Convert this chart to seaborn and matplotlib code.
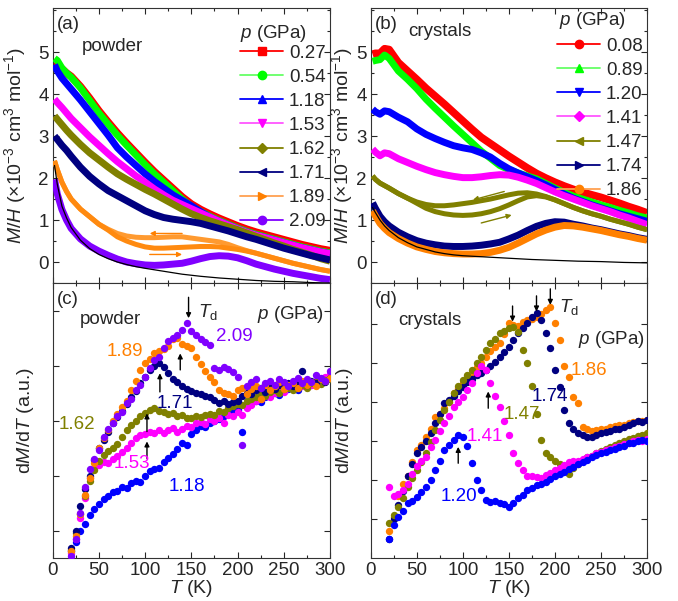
import matplotlib
matplotlib.use("Agg")
import matplotlib.pyplot as plt
import seaborn as sns
from matplotlib.lines import Line2D
from matplotlib.ticker import MultipleLocator, FixedLocator, NullFormatter

sns.set_style("ticks")
plt.rcParams['font.family'] = ['Liberation Sans', 'DejaVu Sans']
plt.rcParams['mathtext.fontset'] = 'custom'
plt.rcParams['mathtext.rm'] = 'Liberation Sans'
plt.rcParams['mathtext.it'] = 'Liberation Sans:italic'
plt.rcParams['mathtext.bf'] = 'Liberation Sans:bold'

# ---------------- data: top panels (M/H) ----------------
T_top = [2, 5, 10, 15, 20, 30, 40, 50, 60, 70, 80, 90, 100, 110, 120, 130, 140, 150,
         160, 170, 180, 190, 200, 210, 220, 230, 240, 250, 260, 270, 280, 290, 300]

powder_p = ["0.27", "0.54", "1.18", "1.53", "1.62", "1.71", "1.89", "2.09"]
pw_027 = [4.65, 4.68, 4.60, 4.50, 4.42, 4.18, 3.90, 3.60, 3.33, 3.07, 2.83, 2.60, 2.37, 2.15, 1.95, 1.75, 1.55, 1.38,
          1.25, 1.14, 1.04, 0.95, 0.86, 0.78, 0.71, 0.65, 0.59, 0.53, 0.47, 0.41, 0.36, 0.31, 0.27]
pw_054 = [4.85, 4.80, 4.62, 4.50, 4.40, 4.15, 3.85, 3.55, 3.28, 3.02, 2.78, 2.55, 2.32, 2.10, 1.90, 1.70, 1.50, 1.33,
          1.20, 1.09, 0.99, 0.90, 0.81, 0.73, 0.66, 0.60, 0.54, 0.48, 0.42, 0.36, 0.31, 0.26, 0.22]
pw_118 = [4.70, 4.55, 4.38, 4.25, 4.12, 3.86, 3.58, 3.30, 3.02, 2.72, 2.50, 2.30, 2.10, 1.92, 1.76, 1.60, 1.47, 1.34,
          1.20, 1.07, 0.97, 0.88, 0.79, 0.71, 0.64, 0.58, 0.52, 0.46, 0.40, 0.34, 0.29, 0.24, 0.20]
pw_153 = [3.88, 3.80, 3.68, 3.55, 3.42, 3.20, 2.98, 2.78, 2.58, 2.39, 2.22, 2.05, 1.90, 1.74, 1.60, 1.47, 1.37, 1.27,
          1.17, 1.07, 0.97, 0.88, 0.79, 0.71, 0.64, 0.58, 0.52, 0.46, 0.40, 0.34, 0.29, 0.24, 0.20]
pw_162 = [3.48, 3.40, 3.27, 3.14, 3.02, 2.80, 2.60, 2.43, 2.26, 2.10, 1.97, 1.85, 1.73, 1.62, 1.50, 1.38, 1.26, 1.15,
          1.06, 0.98, 0.91, 0.84, 0.77, 0.69, 0.61, 0.53, 0.45, 0.38, 0.30, 0.23, 0.16, 0.08, 0.02]
pw_171 = [3.00, 2.92, 2.78, 2.66, 2.52, 2.26, 2.04, 1.86, 1.70, 1.58, 1.46, 1.34, 1.22, 1.13, 1.06, 1.02, 0.99, 0.96,
          0.92, 0.86, 0.80, 0.74, 0.67, 0.60, 0.54, 0.47, 0.40, 0.33, 0.27, 0.21, 0.15, 0.10, 0.05]
pw_189_cool = [2.41, 2.20, 1.90, 1.68, 1.50, 1.26, 1.08, 0.90, 0.78, 0.68, 0.62, 0.59, 0.58, 0.58, 0.59, 0.60, 0.60, 0.57,
               0.54, 0.51, 0.48, 0.42, 0.34, 0.27, 0.21, 0.15, 0.09, 0.03, -0.03, -0.08, -0.13, -0.18, -0.22]
pw_189_warm = [2.41, 2.20, 1.90, 1.68, 1.50, 1.26, 1.08, 0.90, 0.76, 0.60, 0.50, 0.42, 0.36, 0.33, 0.33, 0.34, 0.35, 0.36,
               0.37, 0.37, 0.36, 0.33, 0.30, 0.26, 0.21, 0.15, 0.09, 0.03, -0.03, -0.08, -0.13, -0.18, -0.22]
pw_209 = [1.97, 1.62, 1.25, 1.00, 0.80, 0.55, 0.38, 0.26, 0.16, 0.07, 0.00, -0.04, -0.07, -0.08, -0.07, -0.05, -0.03, 0.02,
          0.08, 0.13, 0.15, 0.14, 0.10, 0.03, -0.05, -0.11, -0.17, -0.22, -0.27, -0.31, -0.35, -0.39, -0.42]
T_cw_a = [2, 5, 10, 15, 20, 30, 40, 50, 60, 70, 80, 90, 100, 120, 140, 160, 180, 200, 220, 240, 260, 280, 300]
cw_a = [2.30, 1.85, 1.33, 1.05, 0.82, 0.52, 0.32, 0.18, 0.08, 0.00, -0.06, -0.11, -0.15, -0.22, -0.29, -0.34,
        -0.38, -0.41, -0.44, -0.46, -0.47, -0.49, -0.50]

crystal_p = ["0.08", "0.89", "1.20", "1.41", "1.47", "1.74", "1.86"]
cr_008 = [4.95, 4.97, 4.97, 5.08, 5.06, 4.75, 4.55, 4.35, 4.14, 3.95, 3.76, 3.56, 3.36, 3.16, 2.97, 2.82, 2.67, 2.52,
          2.38, 2.24, 2.11, 2.00, 1.90, 1.81, 1.73, 1.66, 1.60, 1.54, 1.47, 1.40, 1.32, 1.25, 1.17]
cr_089 = [4.78, 4.80, 4.82, 4.93, 4.85, 4.55, 4.35, 4.13, 3.88, 3.66, 3.45, 3.24, 3.04, 2.84, 2.64, 2.47, 2.30, 2.20,
          2.12, 2.05, 1.98, 1.87, 1.76, 1.66, 1.57, 1.50, 1.43, 1.36, 1.30, 1.23, 1.17, 1.10, 1.05]
cr_120 = [3.64, 3.58, 3.52, 3.60, 3.58, 3.45, 3.34, 3.17, 3.04, 2.94, 2.85, 2.77, 2.72, 2.68, 2.60, 2.50, 2.35, 2.22,
          2.12, 2.03, 1.94, 1.84, 1.73, 1.62, 1.52, 1.44, 1.36, 1.29, 1.22, 1.15, 1.09, 1.03, 0.97]
cr_141 = [2.69, 2.62, 2.53, 2.60, 2.58, 2.46, 2.37, 2.28, 2.20, 2.13, 2.08, 2.04, 2.01, 2.01, 2.03, 2.06, 2.08, 2.07,
          2.02, 1.95, 1.87, 1.77, 1.67, 1.58, 1.50, 1.42, 1.34, 1.27, 1.20, 1.12, 1.05, 0.97, 0.89]
cr_147_cool = [2.05, 1.97, 1.88, 1.82, 1.76, 1.63, 1.52, 1.43, 1.37, 1.34, 1.34, 1.36, 1.39, 1.42, 1.46, 1.50, 1.55, 1.60,
               1.64, 1.65, 1.62, 1.56, 1.48, 1.39, 1.30, 1.22, 1.15, 1.09, 1.02, 0.96, 0.90, 0.83, 0.77]
cr_147_warm = [2.05, 1.97, 1.88, 1.82, 1.76, 1.63, 1.52, 1.40, 1.28, 1.20, 1.15, 1.12, 1.11, 1.12, 1.15, 1.20, 1.27, 1.36,
               1.46, 1.55, 1.58, 1.55, 1.48, 1.39, 1.30, 1.22, 1.15, 1.09, 1.02, 0.96, 0.90, 0.83, 0.77]
cr_174 = [1.41, 1.28, 1.09, 0.96, 0.86, 0.71, 0.60, 0.51, 0.45, 0.41, 0.38, 0.37, 0.37, 0.38, 0.40, 0.43, 0.47, 0.55,
          0.64, 0.75, 0.85, 0.92, 0.96, 0.95, 0.90, 0.86, 0.81, 0.77, 0.72, 0.67, 0.63, 0.58, 0.54]
cr_186 = [1.22, 1.10, 0.92, 0.80, 0.70, 0.56, 0.45, 0.36, 0.30, 0.25, 0.22, 0.20, 0.19, 0.19, 0.20, 0.23, 0.28, 0.35,
          0.45, 0.56, 0.67, 0.76, 0.83, 0.87, 0.86, 0.83, 0.79, 0.75, 0.70, 0.65, 0.61, 0.56, 0.52]
T_cw_b = [2, 5, 10, 15, 20, 30, 40, 50, 60, 70, 80, 90, 100, 125, 150, 175, 200, 225, 250, 275, 300]
cw_b = [1.30, 1.18, 1.00, 0.86, 0.75, 0.58, 0.46, 0.36, 0.30, 0.24, 0.20, 0.17, 0.15, 0.12, 0.09, 0.06, 0.04,
        0.02, 0.01, -0.01, -0.02]

# ---------------- data: bottom panels (dM/dT, a.u.) ----------------
T_d = [20, 25, 30, 35, 40, 45, 50, 55, 60, 65, 70, 75, 80, 85, 90, 95, 100, 105, 110, 115, 120, 125, 130, 135,
       140, 145, 150, 155, 160, 165, 170, 175, 180, 185, 190, 195, 200, 205, 210, 215, 220, 225, 230, 235,
       240, 245, 250, 255, 260, 265, 270, 275, 280, 285, 290, 295, 300]

dp_118 = [0.12, 0.30, 0.50, 0.62, 0.78, 0.90, 0.98, 1.08, 1.12, 1.20, 1.22, 1.30, 1.28, 1.36, 1.40, 1.38, 1.50, 1.58,
          1.62, 1.64, 1.74, 1.82, 1.90, 1.98, 2.10, 2.05, 2.26, 2.33, 2.40, 2.38, 2.46, 2.50, 2.52, 2.58, 2.62, 2.66,
          2.70, 2.30, 2.74, 2.80, 2.86, 2.84, 2.92, 2.95, 3.00, 2.97, 3.05, 3.08, 3.10, 3.06, 3.14, 3.18, 3.15, 3.20,
          3.24, 3.22, 3.28]
dp_153 = [0.10, 0.35, 0.72, 1.10, 1.45, 1.62, 1.70, 1.74, 1.72, 1.80, 1.85, 1.92, 2.00, 2.10, 2.18, 2.24, 2.26, 2.30,
          2.28, 2.32, 2.27, 2.33, 2.36, 2.30, 2.35, 2.40, 2.38, 2.45, 2.48, 2.44, 2.52, 2.50, 2.55, 2.46, 2.60, 2.58,
          2.65, 2.60, 2.72, 2.78, 2.85, 2.90, 2.95, 2.92, 3.00, 3.05, 3.02, 3.10, 3.08, 3.14, 3.12, 3.18, 3.15, 3.22,
          3.20, 3.30, 3.35]
dp_162 = [0.15, 0.45, 0.80, 1.12, 1.40, 1.60, 1.76, 1.88, 1.95, 2.00, 2.08, 2.20, 2.32, 2.42, 2.50, 2.58, 2.64, 2.70,
          2.72, 2.68, 2.66, 2.62, 2.64, 2.58, 2.60, 2.55, 2.54, 2.58, 2.56, 2.60, 2.62, 2.60, 2.68, 2.65, 2.72, 2.76,
          2.80, 2.78, 2.85, 2.90, 2.92, 2.98, 2.95, 3.02, 3.05, 3.00, 3.08, 3.10, 3.06, 3.12, 3.15, 3.10, 3.18, 3.20,
          3.16, 3.24, 3.26]
dp_171 = [0.18, 0.50, 0.95, 1.25, 1.50, 1.78, 2.00, 2.15, 2.30, 2.45, 2.56, 2.68, 2.80, 2.92, 3.04, 3.18, 3.30, 3.42,
          3.50, 3.54, 3.48, 3.36, 3.26, 3.20, 3.12, 3.08, 3.04, 3.00, 2.98, 2.95, 2.92, 2.88, 2.82, 2.85, 2.80, 2.84,
          2.86, 2.95, 3.00, 2.98, 3.05, 3.10, 3.02, 3.12, 3.08, 3.15, 3.10, 3.18, 3.12, 3.20, 3.40, 3.15, 3.22, 3.18,
          3.25, 3.20, 3.28]
dp_189 = [0.12, 0.40, 0.80, 1.15, 1.45, 1.72, 2.00, 2.18, 2.32, 2.50, 2.62, 2.75, 2.86, 3.05, 3.22, 3.42, 3.55, 3.62,
          3.72, 3.76, 3.80, 3.85, 3.98, 4.00, 3.90, 3.86, 3.82, 3.66, 3.52, 3.40, 3.30, 3.20, 3.05, 3.00, 2.98, 2.95,
          3.05, 3.10, 2.98, 3.08, 3.12, 2.90, 3.15, 3.05, 3.12, 3.20, 3.08, 3.15, 3.18, 3.10, 3.22, 3.15, 3.20, 3.12,
          3.25, 3.22, 3.28]
dp_209 = [0.03, 0.35, 0.82, 1.30, 1.62, 1.80, 1.96, 2.20, 2.35, 2.45, 2.58, 2.66, 2.82, 2.90, 3.05, 3.15, 3.30, 3.45,
          3.60, 3.65, 3.82, 3.94, 4.00, 4.05, 4.15, 4.27, 4.12, 4.05, 3.98, 3.92, 3.88, 3.45, 3.42, 3.48, 3.44, 3.38,
          3.30, 2.05, 3.12, 3.20, 3.25, 3.10, 3.18, 3.22, 3.15, 3.26, 3.20, 3.12, 3.22, 3.28, 3.18, 3.25, 3.20, 3.32,
          3.28, 3.22, 3.40]

dc_120 = [0.50, 0.85, 1.05, 1.20, 1.40, 1.45, 1.57, 1.70, 1.83, 2.00, 2.26, 2.50, 2.77, 2.90, 3.03, 3.15, 3.10, 2.86,
          2.43, 2.00, 1.74, 1.49, 1.44, 1.46, 1.40, 1.38, 1.32, 1.42, 1.53, 1.62, 1.74, 1.80, 1.86, 1.90, 1.96, 2.02,
          2.09, 2.15, 2.20, 2.28, 2.34, 2.40, 2.47, 2.52, 2.60, 2.64, 2.68, 2.72, 2.77, 2.80, 2.85, 2.88, 2.94, 2.96,
          3.00, 3.02, 3.00]
dc_141 = [1.83, 1.60, 1.65, 1.75, 1.91, 2.15, 2.35, 2.50, 2.60, 2.85, 3.03, 3.25, 3.45, 3.65, 3.88, 4.00, 4.14, 4.30,
          4.48, 4.74, 4.91, 4.82, 4.48, 4.15, 3.88, 3.50, 3.15, 2.69, 2.43, 2.25, 2.09, 2.10, 2.08, 2.05, 2.12, 2.18,
          2.26, 2.30, 2.38, 2.45, 2.50, 2.48, 2.55, 2.60, 2.62, 2.68, 2.72, 2.76, 2.80, 2.84, 2.88, 2.92, 2.95, 3.00,
          3.02, 3.00, 3.05]
dc_147 = [0.89, 1.10, 1.32, 1.55, 1.83, 2.05, 2.25, 2.45, 2.68, 2.98, 3.28, 3.55, 3.80, 4.00, 4.22, 4.40, 4.56, 4.70,
          4.82, 5.00, 5.16, 5.32, 5.50, 5.62, 5.76, 5.82, 5.89, 5.93, 5.80, 5.33, 4.99, 4.40, 3.70, 3.03, 2.68, 2.60,
          2.50, 2.40, 2.26, 2.15, 2.30, 2.40, 2.50, 2.58, 2.62, 2.70, 2.75, 2.80, 2.85, 2.90, 2.95, 3.00, 3.05, 3.08,
          3.12, 3.15, 3.20]
dc_174 = [0.50, 1.00, 1.35, 1.72, 2.09, 2.40, 2.68, 2.85, 3.00, 3.20, 3.45, 3.70, 3.97, 4.05, 4.15, 4.28, 4.39, 4.50,
          4.60, 4.68, 4.74, 4.82, 4.91, 5.02, 5.16, 5.28, 5.42, 5.60, 5.76, 5.90, 6.02, 6.19, 6.27, 6.10, 5.76, 5.38,
          4.82, 4.39, 3.80, 3.45, 3.30, 3.20, 3.15, 3.11, 3.11, 3.15, 3.20, 3.22, 3.25, 3.30, 3.32, 3.35, 3.40, 3.45,
          3.50, 3.48, 3.54]
dc_186 = [0.70, 1.05, 1.60, 1.90, 2.10, 2.45, 2.77, 2.90, 3.10, 3.30, 3.62, 3.70, 3.85, 4.00, 4.22, 4.35, 4.48, 4.62,
          4.75, 4.90, 5.00, 5.15, 5.30, 5.42, 5.50, 5.75, 6.02, 5.98, 5.95, 6.05, 6.10, 6.12, 6.19, 6.25, 6.36, 6.44,
          6.02, 5.59, 4.91, 4.65, 4.14, 3.97, 3.37, 3.30, 3.25, 3.28, 3.30, 3.32, 3.35, 3.38, 3.40, 3.42, 3.45, 3.48,
          3.50, 3.52, 3.55]

# colours / markers
C = dict(red='#FF0000', green='#00FF00', blue='#0000FF', mag='#FF00FF', olive='#808000',
         navy='#000080', orange='#FF8000', purple='#8000FF')

# ---------------- figure ----------------
fig = plt.figure(figsize=(6.78, 6.01), dpi=100)
ax_a = fig.add_axes([0.0777, 0.5291, 0.409, 0.4576])
ax_c = fig.add_axes([0.0777, 0.0715, 0.409, 0.4576])
ax_b = fig.add_axes([0.5468, 0.5291, 0.4075, 0.4576])
ax_d = fig.add_axes([0.5468, 0.0715, 0.4075, 0.4576])

FS = 13.5
FL = 14


def band(ax, T, v, color, lw=5.0, z=2, alpha=1.0):
    sns.lineplot(x=T, y=v, ax=ax, color=color, lw=lw, sort=False, estimator=None,
                 legend=False, zorder=z, alpha=alpha, solid_capstyle='butt')


def cw(ax, T, v):
    sns.lineplot(x=T, y=v, ax=ax, color='black', lw=0.9, sort=False, estimator=None,
                 legend=False, zorder=20)


# (a) powder
band(ax_a, T_top, pw_027, C['red'], z=2, lw=5.5)
band(ax_a, T_top, pw_054, C['green'], z=3)
band(ax_a, T_top, pw_118, C['blue'], z=4)
band(ax_a, T_top, pw_153, C['mag'], z=5)
band(ax_a, T_top, pw_162, C['olive'], z=6)
band(ax_a, T_top, pw_171, C['navy'], z=7)
band(ax_a, T_top, pw_189_cool, '#FF9A30', lw=3.6, z=8)
band(ax_a, T_top, pw_189_warm, '#FF8A10', lw=3.6, z=8)
band(ax_a, T_top, pw_209, C['purple'], z=9)
cw(ax_a, T_cw_a, cw_a)
ax_a.annotate('', xy=(105, 0.68), xytext=(140, 0.68),
              arrowprops=dict(arrowstyle='-|>', color=C['orange'], lw=1, mutation_scale=7, shrinkA=0, shrinkB=0), zorder=30)
ax_a.annotate('', xy=(140, 0.18), xytext=(105, 0.18),
              arrowprops=dict(arrowstyle='-|>', color=C['orange'], lw=1, mutation_scale=7, shrinkA=0, shrinkB=0), zorder=30)

# (b) crystals
band(ax_b, T_top, cr_008, C['red'], z=2, lw=5.5)
band(ax_b, T_top, cr_089, C['green'], z=3)
band(ax_b, T_top, cr_120, C['blue'], z=4)
band(ax_b, T_top, cr_141, C['mag'], z=5)
band(ax_b, T_top, cr_147_cool, C['olive'], lw=3.6, z=6)
band(ax_b, T_top, cr_147_warm, C['olive'], lw=3.6, z=6)
band(ax_b, T_top, cr_174, C['navy'], z=7)
band(ax_b, T_top, cr_186, C['orange'], z=8)
cw(ax_b, T_cw_b, cw_b)
ax_b.annotate('', xy=(111, 1.48), xytext=(145, 1.68),
              arrowprops=dict(arrowstyle='-|>', color=C['olive'], lw=1, mutation_scale=7, shrinkA=0, shrinkB=0), zorder=30)
ax_b.annotate('', xy=(153, 1.12), xytext=(120, 0.93),
              arrowprops=dict(arrowstyle='-|>', color=C['olive'], lw=1, mutation_scale=7, shrinkA=0, shrinkB=0), zorder=30)

# legends (title drawn as separate text for exact placement)
mk_a = ['s', 'o', '^', 'v', 'D', '<', '>', 'o']
col_a = [C['red'], C['green'], C['blue'], C['mag'], C['olive'], C['navy'], C['orange'], C['purple']]
lc_a = [C['red'], '#66FF66', C['blue'], '#FF55FF', C['olive'], C['navy'], '#FFA050', C['purple']]
h_a = [Line2D([], [], color=lc, lw=1.3, marker=m, ms=6 if m != 'D' else 5, mfc=c, mec=c)
       for m, c, lc in zip(mk_a, col_a, lc_a)]
leg = ax_a.legend(h_a, powder_p, loc='upper right', bbox_to_anchor=(0.985, 0.8665),
                  frameon=False, fontsize=FS, handlelength=2.3, handletextpad=0.3,
                  labelspacing=0.37, borderpad=0, borderaxespad=0)
leg.set_zorder(40)
ax_a.text(0.675, 0.909, "$p$ (GPa)", transform=ax_a.transAxes, fontsize=FS, ha='left', va='center', zorder=40)

mk_b = ['o', '^', 'v', 'D', '<', '>', 'o']
col_b = [C['red'], C['green'], C['blue'], C['mag'], C['olive'], C['navy'], C['orange']]
lc_b = [C['red'], '#66FF66', C['blue'], '#FF55FF', C['olive'], C['navy'], '#FFA050']
h_b = [Line2D([], [], color=lc, lw=1.3, marker=m, ms=6 if m != 'D' else 5, mfc=c, mec=c)
       for m, c, lc in zip(mk_b, col_b, lc_b)]
leg2 = ax_b.legend(h_b, crystal_p, loc='upper right', bbox_to_anchor=(0.985, 0.892),
                   frameon=False, fontsize=FS, handlelength=2.3, handletextpad=0.3,
                   labelspacing=0.37, borderpad=0, borderaxespad=0)
leg2.set_zorder(40)
ax_b.text(0.681, 0.956, "$p$ (GPa)", transform=ax_b.transAxes, fontsize=FS, ha='left', va='center', zorder=40)

# (c) powder derivative
S = 28
for vals, c, z in [(dp_118, C['blue'], 3), (dp_153, C['mag'], 4), (dp_162, C['olive'], 5),
                   (dp_171, C['navy'], 6), (dp_189, C['orange'], 7), (dp_209, C['purple'], 8)]:
    sns.scatterplot(x=T_d, y=vals, ax=ax_c, color=c, s=S, linewidth=0, legend=False, zorder=z)

# (d) crystals derivative
for vals, c, z in [(dc_186, C['orange'], 3), (dc_174, C['navy'], 4), (dc_147, C['olive'], 5),
                   (dc_141, C['mag'], 6), (dc_120, C['blue'], 7)]:
    sns.scatterplot(x=T_d, y=vals, ax=ax_d, color=c, s=S, linewidth=0, legend=False, zorder=z)


def arrow(ax, x, y0, y1):
    ax.annotate('', xy=(x, y1), xytext=(x, y0),
                arrowprops=dict(arrowstyle='-|>', color='black', lw=1, mutation_scale=7,
                                shrinkA=0, shrinkB=0), zorder=30, annotation_clip=False)


# annotations (c)
for s, x, y, c in [("1.89", 78, 3.75, C['orange']), ("2.09", 196, 4.02, C['purple']),
                   ("1.71", 132, 2.81, C['navy']), ("1.62", 26, 2.42, C['olive']),
                   ("1.53", 86, 1.72, C['mag']), ("1.18", 145, 1.30, C['blue'])]:
    ax_c.text(x, y, s, color=c, fontsize=FS, ha='center', va='center', zorder=35)
ax_c.text(63, 4.33, "powder", fontsize=FS, ha='center', va='center')
ax_c.text(157, 4.48, "$T_\\mathrm{d}$", fontsize=FS, ha='left', va='center')
ax_c.text(257, 4.42, "$p$ (GPa)", fontsize=FS, ha='center', va='center')
arrow(ax_c, 147, 4.74, 4.36)
arrow(ax_c, 138, 3.42, 3.72)
arrow(ax_c, 116, 3.02, 3.36)
arrow(ax_c, 102, 2.30, 2.63)
arrow(ax_c, 102, 1.81, 2.12)

# annotations (d)
for s, x, y, c in [("1.86", 237, 4.82, C['orange']), ("1.74", 194, 4.14, C['navy']),
                   ("1.47", 164, 3.67, C['olive']), ("1.41", 124, 3.11, C['mag']),
                   ("1.20", 96, 1.57, C['blue'])]:
    ax_d.text(x, y, s, color=c, fontsize=FS, ha='center', va='center', zorder=35)
ax_d.text(64, 6.1, "crystals", fontsize=FS, ha='center', va='center')
ax_d.text(204, 6.44, "$T_\\mathrm{d}$", fontsize=FS, ha='left', va='center')
ax_d.text(261, 5.59, "$p$ (GPa)", fontsize=FS, ha='center', va='center')
arrow(ax_d, 154, 6.46, 6.06)
arrow(ax_d, 180, 6.72, 6.32)
arrow(ax_d, 195, 6.9, 6.49)
arrow(ax_d, 127.6, 3.84, 4.27)
arrow(ax_d, 95, 2.43, 2.85)

# panel labels
ax_a.text(0.015, 0.97, "(a)", transform=ax_a.transAxes, fontsize=FS, va='top', ha='left')
ax_a.text(0.215, 0.86, "powder", transform=ax_a.transAxes, fontsize=FS, va='center', ha='center')
ax_b.text(0.015, 0.97, "(b)", transform=ax_b.transAxes, fontsize=FS, va='top', ha='left')
ax_b.text(0.25, 0.915, "crystals", transform=ax_b.transAxes, fontsize=FS, va='center', ha='center')
ax_c.text(0.015, 0.97, "(c)", transform=ax_c.transAxes, fontsize=FS, va='top', ha='left')
ax_d.text(0.015, 0.97, "(d)", transform=ax_d.transAxes, fontsize=FS, va='top', ha='left')

# axes formatting
ylab_top = "$M/H$ (×10$^{-3}$ cm$^{3}$ mol$^{-1}$)"
for ax in (ax_a, ax_b, ax_c, ax_d):
    ax.set_xlim(0, 300)
    ax.xaxis.set_major_locator(MultipleLocator(50))
    ax.xaxis.set_minor_locator(MultipleLocator(25))
    ax.tick_params(which='both', direction='in', top=True, right=True, labelsize=FS, width=0.8, pad=3)
    ax.tick_params(which='major', length=4)
    ax.tick_params(which='minor', length=2)
    for sp in ax.spines.values():
        sp.set_linewidth(0.8)
        sp.set_color('#333333')

for ax in (ax_a, ax_b):
    ax.set_ylim(-0.5, 6.05)
    ax.yaxis.set_minor_locator(MultipleLocator(0.5))
    ax.set_yticks([0, 1, 2, 3, 4, 5])
    ax.tick_params(labelbottom=False)
    ax.set_xlabel("")
    ax.set_ylabel(ylab_top, fontsize=FL)

ax_c.set_ylim(0, 5)
ax_c.yaxis.set_major_locator(FixedLocator([0.5, 1.5, 2.5, 3.5, 4.5]))
ax_d.set_ylim(0, 7.05)
ax_d.yaxis.set_major_locator(FixedLocator([1, 2, 3, 4, 5, 6]))
for ax in (ax_c, ax_d):
    ax.yaxis.set_major_formatter(NullFormatter())
    ax.set_xlabel("$T$ (K)", fontsize=FL, labelpad=-1)
    ax.set_ylabel("d$M$/d$T$ (a.u.)", fontsize=FL)

ax_a.yaxis.set_label_coords(-0.09, 0.5)
ax_b.yaxis.set_label_coords(-0.058, 0.5)
ax_c.yaxis.set_label_coords(-0.06, 0.5)
ax_d.yaxis.set_label_coords(-0.058, 0.5)

fig.savefig("out.png", dpi=100)
